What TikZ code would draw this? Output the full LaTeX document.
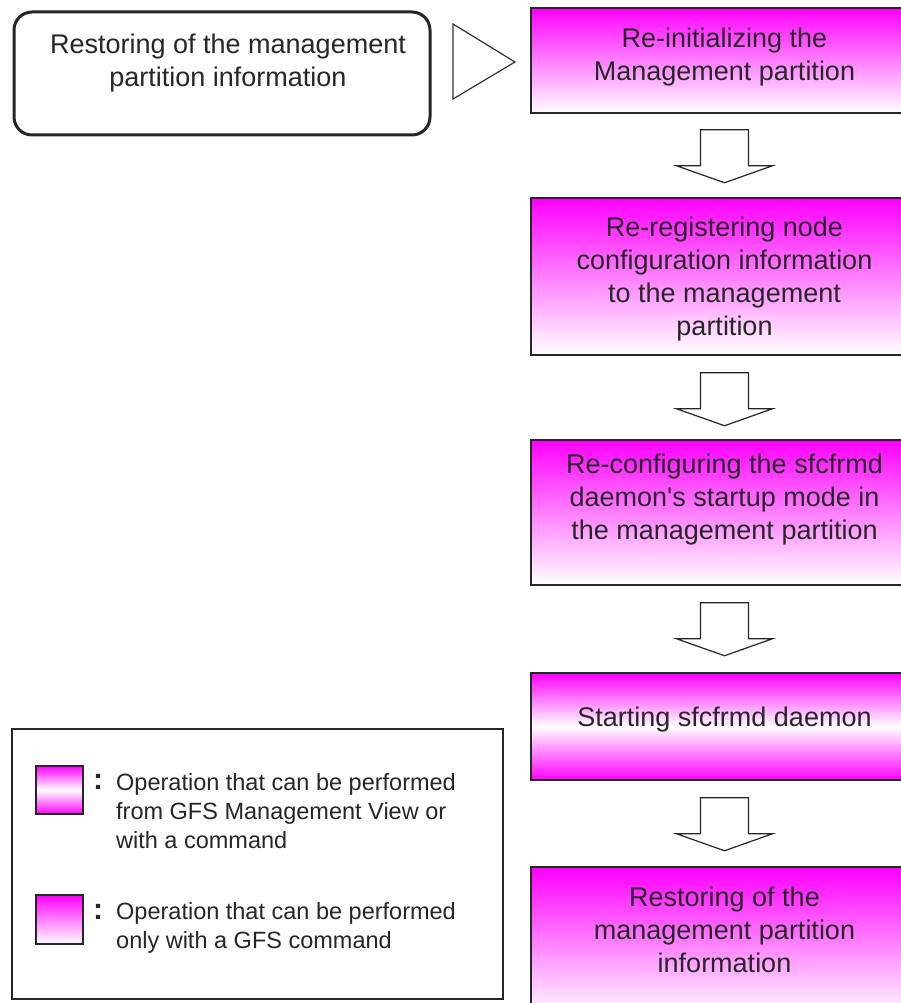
\documentclass[tikz,border=0pt]{standalone}
\usepackage{fontspec}
\setmainfont[Ligatures=NoCommon]{Liberation Sans}
\usetikzlibrary{calc}
\begin{document}
\begin{tikzpicture}[x=1pt,y=-1pt,
  boxline/.style={draw=black!85, line width=1.5pt},
  stepbox/.style={boxline, top color=magenta, bottom color=white, minimum width=387pt, inner sep=0pt},
  stepboxmid/.style={boxline, top color=magenta, bottom color=magenta, middle color=white, minimum width=387pt, inner sep=0pt},
  steptext/.style={font=\fontsize{27}{33}\selectfont, align=center, text=black!85, inner sep=0pt},
  legtext/.style={font=\fontsize{23.5}{29}\selectfont, align=left, text=black!85, inner sep=0pt, anchor=west},
  colonmark/.style={font=\fontsize{30}{30}\selectfont\bfseries, inner sep=0pt, text=black!85},
  blockdown/.pic={\draw[draw=black!85, line width=1.2pt, fill=white]
     (-24,0) -- (-24,36) -- (-48,36) -- (0,53) -- (48,36) -- (24,36) -- (24,0) -- cycle;}
]
\useasboundingbox (0,0) rectangle (901,1003);
\clip (0,0) rectangle (901,1003);
\fill[white] (0,0) rectangle (901,1003);

% start box
\node[draw=black!85, line width=3pt, rounded corners=18pt, minimum width=416pt, minimum height=123pt] (start) at (222,73.5) {};
\node[steptext] (starttext) at (228,63) {Restoring of the management\\partition information};

% triangle pointer
\draw[draw=black!80, line width=1.2pt] (453,24) -- (515,62) -- (453,99) -- cycle;

% steps
\node[stepbox, minimum height=105pt] (b1) at (724.5,60.5) {};
\node[steptext] (t1) at (724.5,57) {Re-initializing the\\Management partition};

\node[stepbox, minimum height=157pt] (b2) at (724.5,276.5) {};
\node[steptext] (t2) at (724.5,279) {Re-registering node\\configuration information\\to the management\\partition};

\node[stepbox, minimum height=145pt] (b3) at (724.5,512.5) {};
\node[steptext] (t3) at (724.5,500) {Re-configuring the sfcfrmd\\daemon\textquotesingle s startup mode in\\the management partition};

\node[stepboxmid, minimum height=107pt] (b4) at (724.5,726.5) {};
\node[steptext] (t4) at (724.5,720) {Starting sfcfrmd daemon};

\node[stepbox, minimum height=150pt] (b5) at (724.5,942) {};
\node[steptext] (t5) at (724.5,930) {Restoring of the\\management partition\\information};

% block arrows
\pic at ($(b1.south)+(0,16)$) {blockdown};
\pic at ($(b2.south)+(0,17)$) {blockdown};
\pic at ($(b3.south)+(0,17)$) {blockdown};
\pic at ($(b4.south)+(0,17)$) {blockdown};

% legend
\node[boxline, minimum width=491pt, minimum height=270pt] (legend) at (257.5,864) {};
\node[boxline, top color=magenta, bottom color=magenta, middle color=white, minimum width=47pt, minimum height=48pt] (sw1) at (59.5,790) {};
\node[boxline, top color=magenta, bottom color=white, minimum width=47pt, minimum height=49pt] (sw2) at (59.5,919.5) {};
\node[colonmark] (c1) at (98,782) {:};
\node[colonmark] (c2) at (98,912) {:};
\node[legtext] (l1) at (116,811) {Operation that can be performed\\from GFS Management View or\\with a command};
\node[legtext] (l2) at (116,928) {Operation that can be performed\\only with a GFS command};
\end{tikzpicture}
\end{document}
